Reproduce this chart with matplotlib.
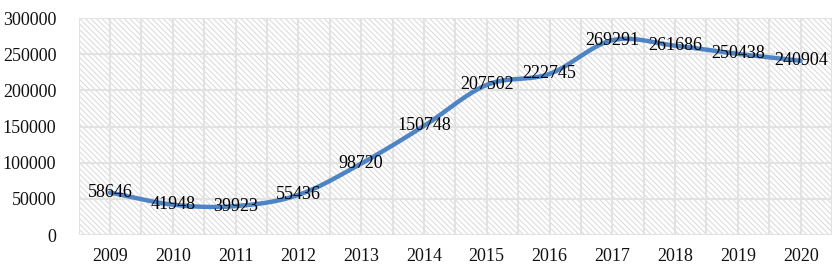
import numpy as np
import matplotlib
matplotlib.use("Agg")
import matplotlib.pyplot as plt
from matplotlib.patches import Rectangle

years = ["2009", "2010", "2011", "2012", "2013", "2014", "2015", "2016", "2017", "2018", "2019", "2020"]
values = [58646, 41948, 39923, 55436, 98720, 150748, 207502, 222745, 269291, 261686, 250438, 240904]
yticks = [0, 50000, 100000, 150000, 200000, 250000, 300000]

plt.rcParams['font.family'] = ['Liberation Serif', 'DejaVu Serif']
plt.rcParams['hatch.color'] = '#dedede'
plt.rcParams['hatch.linewidth'] = 0.7

fig = plt.figure(figsize=(8.39, 2.8), dpi=100)
ax = fig.add_axes([0.0937, 0.1607, 0.898, 0.775])

n = len(values)
x = np.arange(n)
ax.set_xlim(-0.5, n - 0.5)
ax.set_ylim(0, 300000)

# hatched background
ax.add_patch(Rectangle((0, 0), 1, 1, transform=ax.transAxes, facecolor='white',
                       edgecolor='#d9d9d9', hatch='\\\\\\\\\\\\', lw=0, zorder=0))

# gridlines
for yv in yticks:
    ax.axhline(yv, color='#e2e2e2', lw=1.5, zorder=1)
for xv in np.arange(-0.5, n, 0.5):
    ax.axvline(xv, color='#e2e2e2', lw=1.5, zorder=1)

# smooth line (Catmull-Rom through data points)
def catmull(xs, ys, steps=30):
    px = np.concatenate([[2*xs[0]-xs[1]], xs, [2*xs[-1]-xs[-2]]])
    py = np.concatenate([[2*ys[0]-ys[1]], ys, [2*ys[-1]-ys[-2]]])
    ox, oy = [], []
    for i in range(1, len(px)-2):
        t = np.linspace(0, 1, steps, endpoint=False)
        for arr, out in ((px, ox), (py, oy)):
            p0, p1, p2, p3 = arr[i-1], arr[i], arr[i+1], arr[i+2]
            out.extend(0.5*((2*p1) + (-p0+p2)*t + (2*p0-5*p1+4*p2-p3)*t**2 + (-p0+3*p1-3*p2+p3)*t**3))
    ox.append(xs[-1]); oy.append(ys[-1])
    return np.array(ox), np.array(oy)

sx, sy = catmull(x.astype(float), np.array(values, dtype=float))
ax.plot(sx, sy, color='#4f84c4', lw=3.2, solid_capstyle='round', zorder=3)

for xi, v in zip(x, values):
    ax.text(xi, v, str(v), ha='center', va='center', fontsize=13, color='#000000', zorder=4)

ax.set_xticks(x)
ax.set_xticklabels(years)
ax.set_yticks(yticks)
ax.set_yticklabels([str(v) for v in yticks])
ax.tick_params(axis='both', length=0, labelsize=13, colors='#111111')
ax.tick_params(axis='y', pad=16)
ax.tick_params(axis='x', pad=9)
for s in ax.spines.values():
    s.set_visible(False)

fig.savefig('out.png', dpi=100, facecolor='white')
